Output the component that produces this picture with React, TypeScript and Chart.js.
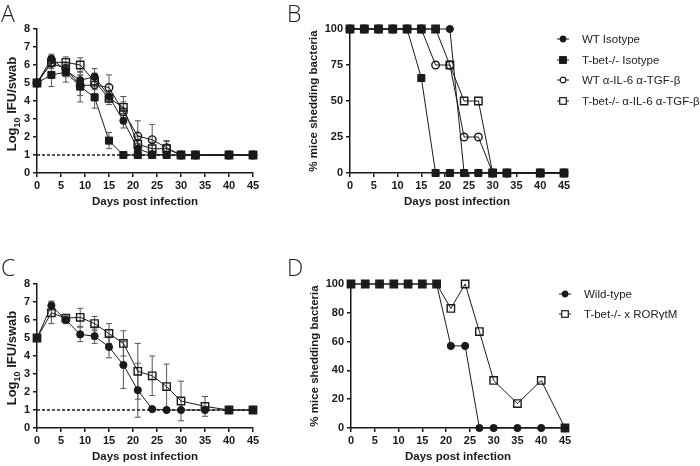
import React, { useEffect, useRef } from "react";
import { Chart, registerables } from "chart.js";
Chart.register(...registerables);

const W = 700;
const H = 466;
const FONT = "'Liberation Sans', Arial, Helvetica, sans-serif";
const INK = "#1a1a1a";

// ---------- data ----------
const daysAB = [0, 3, 6, 9, 12, 15, 18, 21, 24, 27, 30, 33, 40, 45];
const daysCD = [0, 3, 6, 9, 12, 15, 18, 21, 24, 27, 30, 35, 40, 45];
const detectionLimit = 1;

const labelsAB = ["WT Isotype", "T-bet-/- Isotype", "WT α-IL-6 α-TGF-β", "T-bet-/- α-IL-6 α-TGF-β"];
const labelsCD = ["Wild-type", "T-bet-/- x RORγtM"];

// Panel A: log10 IFU/swab (mean, error)
const aWtIso = [5, 6.35, 5.7, 5.15, 5.35, 4.25, 2.9, 1.35, 1.05, 1, 1, 1, 1, 1];
const aWtIsoErr = [0, 0.25, 0.35, 0.3, 0.45, 0.3, 0.4, 0.3, 0, 0, 0, 0, 0, 0];
const aTbetIso = [5, 5.45, 5.6, 4.8, 4.2, 1.8, 1, 1, 1, 1, 1, 1, 1, 1];
const aTbetIsoErr = [0, 0.65, 0.55, 0.85, 0.6, 0.45, 0, 0, 0, 0, 0, 0, 0, 0];
const aWtAnti = [5, 6.1, 5.8, 4.85, 4.9, 4.75, 3.4, 2.05, 1.85, 1.4, 1, 1, 1, 1];
const aWtAntiErr = [0, 0.2, 0.35, 0.55, 0.5, 0.7, 0.55, 0.85, 0.85, 0.35, 0, 0, 0, 0];
const aTbetAnti = [5, 6.15, 6.15, 6.0, 5.1, 4.15, 3.65, 1.6, 1.35, 1.35, 1, 1, 1, 1];
const aTbetAntiErr = [0, 0.35, 0.3, 0.4, 0.45, 0.35, 0.6, 0.45, 0.35, 0.45, 0, 0, 0, 0];

// Panel B: % mice shedding
const bWtIso = [100, 100, 100, 100, 100, 100, 100, 100, 0, 0, 0, 0, 0, 0];
const bTbetIso = [100, 100, 100, 100, 100, 66, 0, 0, 0, 0, 0, 0, 0, 0];
const bWtAnti = [100, 100, 100, 100, 100, 100, 75, 75, 25, 25, 0, 0, 0, 0];
const bTbetAnti = [100, 100, 100, 100, 100, 100, 100, 75, 50, 50, 0, 0, 0, 0];

// Panel C: log10 IFU/swab
const cWt = [5, 6.8, 6.0, 5.2, 5.1, 4.5, 3.5, 2.1, 1.05, 1.0, 1.0, 1.0, 1.0, 1.0];
const cWtErr = [0, 0.25, 0.2, 0.4, 0.4, 0.6, 1.3, 1.5, 0, 0, 0, 0.15, 0, 0];
const cTbetRor = [5, 6.4, 6.1, 6.15, 5.8, 5.25, 4.7, 3.15, 2.9, 2.3, 1.5, 1.2, 1.0, 1.0];
const cTbetRorErr = [0, 0.6, 0.2, 0.5, 0.4, 0.55, 0.7, 1.55, 1.1, 1.25, 1.1, 0.55, 0, 0];

// Panel D: % mice shedding
const dWt = [100, 100, 100, 100, 100, 100, 100, 57, 57, 0, 0, 0, 0, 0];
const dTbetRor = [100, 100, 100, 100, 100, 100, 100, 83, 100, 67, 33, 17, 33, 0];

// ---------- styling helpers ----------
type Kind = "cf" | "sf" | "co" | "so";

function marker(kind: Kind) {
  switch (kind) {
    case "cf":
      return { pointStyle: "circle", pointRadius: 3.6, pointBackgroundColor: INK, pointBorderWidth: 1 };
    case "sf":
      return { pointStyle: "rect", pointRadius: 5, pointBackgroundColor: INK, pointBorderWidth: 1 };
    case "co":
      return { pointStyle: "circle", pointRadius: 3.8, pointBackgroundColor: "rgba(0,0,0,0)", pointBorderWidth: 1.4 };
    case "so":
      return { pointStyle: "rect", pointRadius: 5.2, pointBackgroundColor: "rgba(0,0,0,0)", pointBorderWidth: 1.4 };
  }
}

function series(label: string, days: number[], values: number[], kind: Kind, errors?: number[]) {
  return {
    label,
    data: days.map((d, i) => ({ x: d, y: values[i] })),
    borderColor: INK,
    borderWidth: 1,
    pointBorderColor: INK,
    pointHoverRadius: 0,
    tension: 0,
    clip: false,
    errors,
    ...marker(kind),
  };
}

function limitLine() {
  return {
    label: "limit",
    data: [
      { x: 0, y: detectionLimit },
      { x: 45, y: detectionLimit },
    ],
    borderColor: INK,
    borderWidth: 1.5,
    borderDash: [3, 2],
    pointRadius: 0,
    clip: false,
  };
}

const errorBarPlugin = {
  id: "errorBars",
  beforeDatasetsDraw(chart: any) {
    const { ctx } = chart;
    const xs = chart.scales.x;
    const ys = chart.scales.y;
    ctx.save();
    ctx.strokeStyle = "#555";
    ctx.lineWidth = 1;
    chart.data.datasets.forEach((ds: any) => {
      if (!ds.errors) return;
      ds.data.forEach((p: any, i: number) => {
        const e = ds.errors[i];
        if (!e) return;
        const px = xs.getPixelForValue(p.x);
        const top = ys.getPixelForValue(p.y + e);
        const bot = ys.getPixelForValue(p.y - e);
        ctx.beginPath();
        ctx.moveTo(px, top);
        ctx.lineTo(px, bot);
        ctx.moveTo(px - 3, top);
        ctx.lineTo(px + 3, top);
        ctx.moveTo(px - 3, bot);
        ctx.lineTo(px + 3, bot);
        ctx.stroke();
      });
    });
    ctx.restore();
  },
};

type Area = { l: number; t: number; r: number; b: number };
const YW = 30;
const XH = 40;

function Panel({ area, yMax, yStep, datasets }: { area: Area; yMax: number; yStep: number; datasets: any[] }) {
  const ref = useRef<HTMLCanvasElement>(null);
  useEffect(() => {
    if (!ref.current) return;
    const tickFont = { family: FONT, size: 11, weight: "bold" as const };
    const chart = new Chart(ref.current, {
      type: "line",
      data: { datasets },
      options: {
        animation: false,
        responsive: false,
        maintainAspectRatio: false,
        events: [],
        layout: {
          padding: { left: area.l - YW, top: area.t, right: W - area.r, bottom: H - area.b - XH },
        },
        plugins: { legend: { display: false }, tooltip: { enabled: false } },
        scales: {
          x: {
            type: "linear",
            min: 0,
            max: 45,
            ticks: { stepSize: 5, font: tickFont, color: INK, padding: 2, maxRotation: 0, autoSkip: false },
            grid: { drawOnChartArea: false, drawTicks: true, tickLength: 4, color: INK, lineWidth: 1.5 },
            border: { display: true, color: INK, width: 1.5 },
            title: {
              display: true,
              text: "Days post infection",
              font: { family: FONT, size: 11.5, weight: "bold" },
              color: INK,
              padding: { top: 4, bottom: 4 },
            },
            afterFit: (s: any) => {
              s.height = XH;
            },
          },
          y: {
            type: "linear",
            min: 0,
            max: yMax,
            ticks: { stepSize: yStep, font: tickFont, color: INK, padding: 3 },
            grid: { drawOnChartArea: false, drawTicks: true, tickLength: 4, color: INK, lineWidth: 1.5 },
            border: { display: true, color: INK, width: 1.5 },
            afterFit: (s: any) => {
              s.width = YW;
            },
          },
        },
      } as any,
      plugins: [errorBarPlugin],
    });
    return () => chart.destroy();
  }, []);
  return (
    <canvas
      ref={ref}
      width={W}
      height={H}
      style={{ position: "absolute", left: 0, top: 0, width: W, height: H }}
    />
  );
}

function Glyph({ kind }: { kind: Kind }) {
  const filled = kind === "cf" || kind === "sf";
  return (
    <svg width={12} height={10} style={{ display: "block" }}>
      <line x1={0} y1={5} x2={12} y2={5} stroke={INK} strokeWidth={1} />
      {kind === "cf" || kind === "co" ? (
        <circle cx={6} cy={5} r={2.8} fill={filled ? INK : "white"} stroke={INK} strokeWidth={1.2} />
      ) : (
        <rect x={2.7} y={1.7} width={6.6} height={6.6} fill={filled ? INK : "white"} stroke={INK} strokeWidth={1.2} />
      )}
    </svg>
  );
}

function Legend({ x, y, gap, items }: { x: number; y: number; gap: number; items: { label: string; kind: Kind }[] }) {
  return (
    <>
      {items.map((it, i) => (
        <div
          key={i}
          style={{
            position: "absolute",
            left: x,
            top: y + i * gap - 8,
            height: 16,
            display: "flex",
            alignItems: "center",
            fontFamily: FONT,
            fontSize: 11.5,
            color: "#222",
            whiteSpace: "nowrap",
          }}
        >
          <Glyph kind={it.kind} />
          <span style={{ marginLeft: 13 }}>{it.label}</span>
        </div>
      ))}
    </>
  );
}

function YTitle({ cx, cy, size, children }: { cx: number; cy: number; size: number; children: React.ReactNode }) {
  return (
    <div
      style={{
        position: "absolute",
        left: cx - 100,
        top: cy - 8,
        width: 200,
        height: 16,
        lineHeight: "16px",
        textAlign: "center",
        transform: "rotate(-90deg)",
        fontFamily: FONT,
        fontWeight: "bold",
        fontSize: size,
        color: INK,
        whiteSpace: "nowrap",
      }}
    >
      {children}
    </div>
  );
}

function Letter({ x, y, text }: { x: number; y: number; text: string }) {
  return (
    <div
      style={{
        position: "absolute",
        left: x,
        top: y,
        fontFamily: "'Open Sans', 'Liberation Sans', sans-serif",
        fontWeight: 300,
        fontSize: 23,
        lineHeight: "23px",
        color: "#222",
      }}
    >
      {text}
    </div>
  );
}

export default function App() {
  const dsA = [
    series(labelsAB[1], daysAB, aTbetIso, "sf", aTbetIsoErr),
    series(labelsAB[3], daysAB, aTbetAnti, "so", aTbetAntiErr),
    series(labelsAB[2], daysAB, aWtAnti, "co", aWtAntiErr),
    series(labelsAB[0], daysAB, aWtIso, "cf", aWtIsoErr),
    limitLine(),
  ];
  const dsB = [
    series(labelsAB[1], daysAB, bTbetIso, "sf"),
    series(labelsAB[3], daysAB, bTbetAnti, "so"),
    series(labelsAB[2], daysAB, bWtAnti, "co"),
    series(labelsAB[0], daysAB, bWtIso, "cf"),
  ];
  const dsC = [
    series(labelsCD[1], daysCD, cTbetRor, "so", cTbetRorErr),
    series(labelsCD[0], daysCD, cWt, "cf", cWtErr),
    limitLine(),
  ];
  const dsD = [
    series(labelsCD[1], daysCD, dTbetRor, "so"),
    series(labelsCD[0], daysCD, dWt, "cf"),
  ];

  const logTitle = (
    <>
      Log<sub style={{ fontSize: 9 }}>10</sub> IFU/swab
    </>
  );

  return (
    <div style={{ position: "absolute", left: 0, top: 0, width: W, height: H, background: "white", overflow: "hidden" }}>
      <Panel area={{ l: 37, t: 29, r: 253, b: 173 }} yMax={8} yStep={1} datasets={dsA} />
      <Panel area={{ l: 350, t: 29, r: 564, b: 173 }} yMax={100} yStep={25} datasets={dsB} />
      <Panel area={{ l: 37, t: 284, r: 253, b: 428 }} yMax={8} yStep={1} datasets={dsC} />
      <Panel area={{ l: 351, t: 284, r: 565, b: 428 }} yMax={100} yStep={20} datasets={dsD} />

      <Letter x={1} y={2} text="A" />
      <Letter x={287} y={2} text="B" />
      <Letter x={1} y={256} text="C" />
      <Letter x={287} y={256} text="D" />

      <YTitle cx={12} cy={104} size={13}>
        {logTitle}
      </YTitle>
      <YTitle cx={313} cy={101} size={11.5}>
        % mice shedding bacteria
      </YTitle>
      <YTitle cx={12} cy={358} size={13}>
        {logTitle}
      </YTitle>
      <YTitle cx={314} cy={356} size={11.5}>
        % mice shedding bacteria
      </YTitle>

      <Legend
        x={557}
        y={39}
        gap={20.5}
        items={[
          { label: labelsAB[0], kind: "cf" },
          { label: labelsAB[1], kind: "sf" },
          { label: labelsAB[2], kind: "co" },
          { label: labelsAB[3], kind: "so" },
        ]}
      />
      <Legend
        x={559}
        y={294}
        gap={19.5}
        items={[
          { label: labelsCD[0], kind: "cf" },
          { label: labelsCD[1], kind: "so" },
        ]}
      />
    </div>
  );
}
